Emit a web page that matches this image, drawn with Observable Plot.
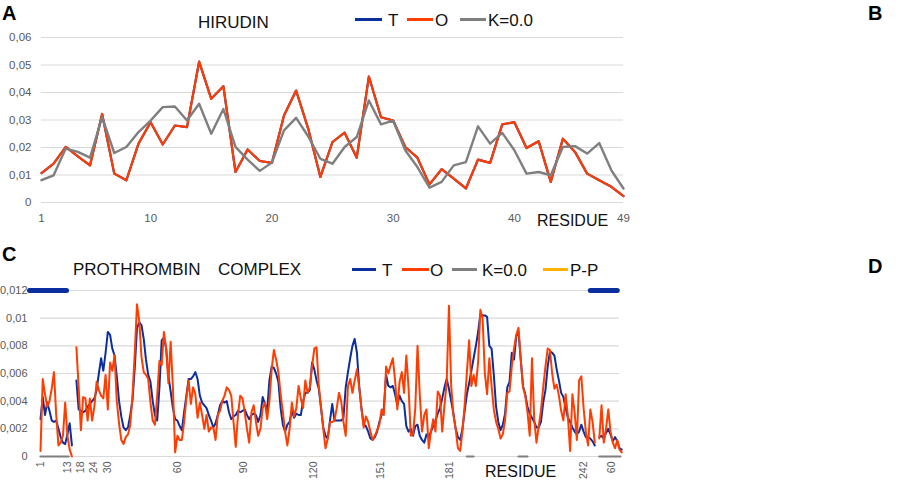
<!DOCTYPE html>
<html><head><meta charset="utf-8">
<script src="https://cdn.jsdelivr.net/npm/d3@7"></script>
<script src="https://cdn.jsdelivr.net/npm/@observablehq/plot@0.6"></script>
<style>
body{margin:0;background:#fff;font-family:"Liberation Sans",Arial,sans-serif;}
#fig{position:relative;width:913px;height:484px;overflow:hidden;background:#fff;}
.abs{position:absolute;white-space:nowrap;line-height:1;color:#111;}
.panel{font-weight:bold;font-size:20px;color:#000;}
.t17{font-size:17px;}
.t16{font-size:16px;}
.sw{position:absolute;height:3px;}
#A,#C{position:absolute;left:0;}
#A{top:0;} #C{top:245px;}
</style></head>
<body><div id="fig"><div id="A"></div><div id="C"></div></div>
<script>
// ---------- Panel A : HIRUDIN ----------
const hirudinXTicks = [1, 10, 20, 30, 40, 49];
const hirudinYTicks = [0, 0.01, 0.02, 0.03, 0.04, 0.05, 0.06];
// O (T coincides with O in this panel)
const hirudinO = [0.0107,0.0141,0.0202,0.0168,0.0135,0.0322,0.0105,0.0081,0.0214,0.0292,
  0.0211,0.028,0.0274,0.0512,0.0377,0.0423,0.0111,0.0193,0.0151,0.0144,
  0.0316,0.0407,0.0268,0.0093,0.022,0.0254,0.0163,0.0458,0.031,0.0298,
  0.0202,0.0163,0.0066,0.0121,0.0087,0.0051,0.0156,0.0144,0.0284,0.0292,
  0.0198,0.0223,0.0075,0.0232,0.0184,0.0105,0.0081,0.0057,0.0023];
const hirudinK = [0.0081,0.0099,0.0196,0.0184,0.0163,0.031,0.018,0.0202,0.0256,0.0298,
  0.0347,0.0349,0.0298,0.0359,0.025,0.034,0.0202,0.0156,0.0115,0.0145,
  0.0262,0.0308,0.024,0.0159,0.0141,0.0202,0.0238,0.0371,0.0284,0.0298,
  0.019,0.0129,0.0054,0.0075,0.0135,0.0147,0.0277,0.0214,0.0253,0.019,
  0.0105,0.0111,0.0099,0.0202,0.0205,0.0178,0.0216,0.0117,0.0051];

// ---------- Panel C : PROTHROMBIN COMPLEX (values in units of 0.001) ----------
const cYTicks = [0, 0.002, 0.004, 0.006, 0.008, 0.01, 0.012];
const cTickPos = [1, 13.3, 18.8, 24.7, 31, 62, 91.5, 122.6, 152.4, 183.2, 243, 255.3];
const cTickLabels = ["1","13","18","24","30","60","90","120","151","181","242","60"];
const chainStart = {light: 1, heavy: 17, hirudin: 250};
const lightT = [2.7,4.3,3.0,3.9,3.3,2.6,2.5,2.6,2.0,1.4,1.0,0.9,1.6,2.4,0.8];
const lightO = [0.4,5.6,4.5,3.6,4.0,4.9,6.1,3.0,0.8,1.0,1.5,3.9,1.5,0.5,0.0];
const heavyT = [
  5.5,3.4,3.3,3.2,3.3,3.6,3.8,4.0,4.2,4.8,
  6.0,7.1,6.2,7.5,9.0,8.8,7.8,7.3,5.8,4.0,
  2.9,2.1,1.9,2.1,3.0,4.1,6.4,9.3,9.7,9.5,
  8.5,7.0,5.9,5.4,4.0,3.0,2.6,5.0,8.4,8.6,
  7.8,5.8,4.7,3.5,2.7,2.6,2.2,1.9,3.2,4.4,
  5.6,5.6,5.8,6.1,5.6,4.4,3.9,3.7,3.5,3.0,
  2.6,2.1,2.4,3.0,3.7,4.0,3.9,4.0,3.2,2.7,
  2.9,3.0,3.3,3.2,3.3,3.4,3.0,2.7,3.0,3.1,
  3.0,2.5,3.0,4.3,3.8,3.3,5.5,6.5,6.4,6.0,
  5.4,3.5,2.3,1.8,2.3,2.5,3.3,2.8,3.1,3.0,
  3.0,4.0,4.6,4.6,4.8,6.8,6.3,5.5,4.9,3.5,
  2.1,1.5,1.3,2.6,3.8,2.6,2.6,2.6,2.6,2.8,
  5.0,6.1,7.1,8.0,8.5,7.5,5.1,3.5,2.3,2.2,
  1.8,1.3,1.2,1.4,1.8,2.5,3.0,3.5,5.9,5.1,
  5.0,5.1,4.5,3.7,4.4,4.0,3.8,2.2,1.8,2.0,
  1.5,2.2,2.3,1.5,1.2,1.0,1.6,1.4,1.8,2.2,
  2.6,3.1,3.5,4.2,5.0,5.6,4.9,4.0,3.1,2.0,
  1.4,1.2,2.0,3.3,4.5,5.3,6.2,7.1,8.0,9.0,
  10.3,10.2,10.2,10.1,8.0,7.8,5.9,3.6,2.5,1.9,
  2.3,3.1,5.0,5.4,7.5,7.0,8.7,9.0,7.0,5.1,
  4.5,3.6,3.1,2.8,2.5,2.1,2.1,2.5,3.9,4.8,
  6.5,7.6,7.5,7.3,6.3,5.5,4.6,4.3,3.5,2.8,
  2.5,2.1,1.8,1.6,1.8,2.3,1.8,1.4,1.4,1.3,
  1.1,0.8];
const heavyO = [
  7.9,5.0,1.9,4.3,4.2,2.6,4.2,2.6,3.6,5.4,
  4.8,4.4,4.2,5.9,3.4,6.8,6.2,7.3,4.0,2.4,
  1.2,0.9,1.4,1.6,2.3,4.4,7.5,11.0,9.8,7.2,
  6.1,5.9,5.6,3.9,2.6,2.3,4.4,6.9,6.6,9.0,
  7.8,5.3,8.3,5.0,0.3,1.5,1.2,1.2,2.5,4.2,
  5.5,3.8,5.0,4.5,2.8,3.9,3.0,2.0,3.0,1.8,
  2.1,2.1,1.2,3.0,3.3,4.0,4.4,5.0,4.8,4.4,
  2.5,0.7,3.0,4.4,4.2,3.2,2.0,1.0,3.2,3.7,
  2.5,1.5,2.0,3.5,3.9,2.7,4.0,6.3,7.7,7.0,
  6.1,4.5,3.2,1.8,0.8,2.0,3.9,2.9,3.5,5.1,
  4.2,3.5,5.5,4.6,5.0,6.5,7.8,7.9,5.1,3.6,
  2.0,0.6,1.3,2.5,2.5,2.6,3.5,4.6,4.0,2.5,
  1.5,5.1,5.6,4.6,5.5,6.3,5.0,3.5,2.1,2.9,
  2.5,1.8,1.2,1.5,1.9,2.3,3.4,3.0,6.5,6.0,
  6.6,7.1,5.5,3.4,5.4,6.1,4.6,7.3,5.0,1.5,
  1.6,3.5,8.0,4.5,1.8,3.0,3.4,0.6,1.8,2.7,
  1.8,4.7,4.4,1.8,3.7,5.4,10.9,5.1,3.0,2.0,
  0.6,0.4,1.8,3.7,6.1,8.4,5.1,5.9,5.1,6.8,
  10.6,10.0,6.0,4.5,7.1,5.1,3.4,2.5,2.0,1.3,
  1.6,2.6,4.6,4.7,6.5,7.8,8.8,9.3,7.0,5.0,
  4.4,3.2,1.5,7.1,2.7,1.0,2.2,3.3,5.0,6.5,
  7.8,7.7,6.0,4.9,5.2,4.4,3.3,2.6,4.5,2.9,
  0.4,4.5,3.2,1.2,5.5,5.8,3.5,1.8,0.8,3.4,
  2.5,1.0];
const hirT = [1.4,1.5,1.3,1.7,2.0,1.6,1.1,1.4,1.1,0.6,0.5];
const hirO = [1.3,3.7,1.0,2.0,3.4,1.8,1.0,0.6,1.2,0.5,0.3];
// K=0.0 drawn on the baseline over these residue ranges
const kZeroRanges = [[1, 13.6], [191, 194], [214, 218], [250, 259.4]];
// thick blue markers at the top (regions highlighted in blue in D)
const blueMarkRanges = [[-3.9, 12.6], [246, 258]];
const blueMarkLevel = 0.012;

const BLUE = "#0b2f9f", ORANGE = "#ff3d00", GRAY = "#7f7f7f", YEL = "#ffb300";
const commaFmt = d => d === 0 ? "0" : String(d).replace(".", ",");

// ---- build tables ----
const tableA = [];
hirudinO.forEach((v, i) => tableA.push({res: i + 1, v, s: "T"}));
hirudinO.forEach((v, i) => tableA.push({res: i + 1, v, s: "O"}));
hirudinK.forEach((v, i) => tableA.push({res: i + 1, v, s: "K"}));

const tableC = [];
function addChain(name, start, arrT, arrO) {
  arrT.forEach((v, i) => tableC.push({pos: start + i, v: v / 1000, s: "T", chain: name}));
  arrO.forEach((v, i) => tableC.push({pos: start + i, v: v / 1000, s: "O", chain: name}));
}
addChain("light", chainStart.light, lightT, lightO);
addChain("heavy", chainStart.heavy, heavyT, heavyO);
addChain("hirudin", chainStart.hirudin, hirT, hirO);
const kTable = kZeroRanges.flatMap((r, i) => r.map(p => ({pos: p, v: 0, g: i})));
const markTable = blueMarkRanges.flatMap((r, i) => r.map(p => ({pos: p, v: blueMarkLevel, g: i})));
const labelMap = new Map(cTickPos.map((p, i) => [p, cTickLabels[i]]));

const axisStyle = {fontFamily: '"Liberation Sans", Arial, sans-serif', color: "#595959", background: "transparent", overflow: "visible"};

const plotA = Plot.plot({
  width: 640, height: 232,
  marginLeft: 41, marginRight: 17, marginTop: 37, marginBottom: 30,
  style: {...axisStyle, fontSize: "11.5px"},
  x: {domain: [1, 49], label: null},
  y: {domain: [0, 0.06], label: null},
  marks: [
    Plot.gridY(hirudinYTicks, {stroke: "#d9d9d9", strokeOpacity: 1, strokeWidth: 1.2}),
    Plot.axisY(hirudinYTicks, {tickSize: 0, tickPadding: 10, tickFormat: commaFmt, fill: "#595959"}),
    Plot.axisX(hirudinXTicks, {tickSize: 0, tickPadding: 11, tickFormat: d => String(d), fill: "#595959"}),
    Plot.line(tableA.filter(d => d.s === "T"), {x: "res", y: "v", stroke: BLUE, strokeWidth: 2.2}),
    Plot.line(tableA.filter(d => d.s === "O"), {x: "res", y: "v", stroke: ORANGE, strokeWidth: 2.2}),
    Plot.line(tableA.filter(d => d.s === "K"), {x: "res", y: "v", stroke: GRAY, strokeWidth: 2.4})
  ]
});
document.getElementById("A").appendChild(plotA);

const plotC = Plot.plot({
  width: 640, height: 239,
  marginLeft: 40, marginRight: 21, marginTop: 45, marginBottom: 28,
  style: {...axisStyle, fontSize: "11px"},
  x: {domain: [1, 259], label: null},
  y: {domain: [0, 0.012], label: null},
  marks: [
    Plot.gridY(cYTicks, {stroke: "#d9d9d9", strokeOpacity: 1, strokeWidth: 1.2}),
    Plot.axisY(cYTicks, {tickSize: 0, tickPadding: 13, tickFormat: commaFmt, fill: "#595959"}),
    Plot.axisX(cTickPos, {tickSize: 0, tickPadding: 5, tickRotate: -90, tickFormat: d => labelMap.get(d), fill: "#595959", fontSize: 10.5}),
    Plot.line(kTable, {x: "pos", y: "v", z: "g", stroke: GRAY, strokeWidth: 2.2}),
    Plot.line(tableC.filter(d => d.s === "T"), {x: "pos", y: "v", z: "chain", stroke: BLUE, strokeWidth: 2}),
    Plot.line(tableC.filter(d => d.s === "O"), {x: "pos", y: "v", z: "chain", stroke: ORANGE, strokeWidth: 2}),
    Plot.line(markTable, {x: "pos", y: "v", z: "g", stroke: BLUE, strokeWidth: 5, strokeLinecap: "round"})
  ]
});
document.getElementById("C").appendChild(plotC);

// ---- text & legends ----
const fig = document.getElementById("fig");
function txt(s, left, top, cls) {
  const d = document.createElement("div");
  d.className = "abs " + cls; d.textContent = s;
  d.style.left = left + "px"; d.style.top = top + "px";
  fig.appendChild(d);
}
function sw(color, left, top, w) {
  const d = document.createElement("div");
  d.className = "sw"; d.style.background = color;
  d.style.left = left + "px"; d.style.top = top + "px"; d.style.width = w + "px";
  fig.appendChild(d);
}
txt("A", 2, 3, "panel");
txt("B", 868, 3, "panel");
txt("C", 2, 244, "panel");
txt("D", 868, 256, "panel");
txt("HIRUDIN", 198, 14, "t17");
sw(BLUE, 355, 18, 27); txt("T", 388, 12, "t17");
sw(ORANGE, 407, 18, 26); txt("O", 435, 12, "t17");
sw(GRAY, 460, 18, 26); txt("K=0.0", 488, 12, "t17");
txt("RESIDUE", 537, 213, "t16");
txt("PROTHROMBIN", 73, 261, "t17");
txt("COMPLEX", 218, 261, "t17");
sw(BLUE, 352, 268, 24); txt("T", 382, 262, "t17");
sw(ORANGE, 402, 268, 27); txt("O", 430, 262, "t17");
sw(GRAY, 452, 268, 25); txt("K=0.0", 482, 262, "t17");
sw(YEL, 543, 268, 25); txt("P-P", 570, 262, "t17");
txt("RESIDUE", 485, 464, "t16");
</script>
</body></html>
